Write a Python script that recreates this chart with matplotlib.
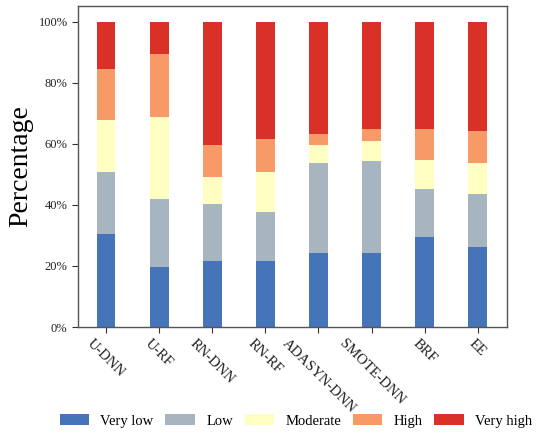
import matplotlib
matplotlib.use("Agg")
import matplotlib.pyplot as plt
import numpy as np
from matplotlib.ticker import PercentFormatter

plt.rcParams['font.family'] = ['Liberation Serif', 'DejaVu Serif']

models = ["U-DNN", "U-RF", "RN-DNN", "RN-RF", "ADASYN-DNN", "SMOTE-DNN", "BRF", "EE"]
levels = ["Very low", "Low", "Moderate", "High", "Very high"]

very_low  = [0.304, 0.198, 0.217, 0.217, 0.244, 0.242, 0.294, 0.263]
low       = [0.205, 0.223, 0.186, 0.160, 0.294, 0.301, 0.157, 0.172]
moderate  = [0.171, 0.267, 0.090, 0.130, 0.058, 0.066, 0.097, 0.102]
high      = [0.167, 0.207, 0.103, 0.110, 0.036, 0.039, 0.102, 0.106]
very_high = [0.153, 0.105, 0.404, 0.383, 0.368, 0.352, 0.350, 0.357]

series = [very_low, low, moderate, high, very_high]
colors = ["#4575b8", "#a6b5c0", "#ffffc4", "#f89a68", "#d93027"]

fig = plt.figure(figsize=(5.37, 4.36), dpi=100)
ax = fig.add_axes([0.1453, 0.25, 0.944 - 0.1453, 0.736])

x = np.arange(len(models))
bottom = np.zeros(len(models))
for vals, col, lab in zip(series, colors, levels):
    ax.bar(x, vals, width=0.35, bottom=bottom, color=col, label=lab)
    bottom += np.array(vals)

ax.set_xlim(-0.53, 7.55)
ax.set_ylim(0, 1.052)
ax.set_yticks([0, 0.2, 0.4, 0.6, 0.8, 1.0])
ax.yaxis.set_major_formatter(PercentFormatter(1.0, decimals=0))
ax.set_xticks(x)
ax.set_xticklabels(models, rotation=-45, ha='center', va='top', fontsize=10.5)
ax.tick_params(axis='y', labelsize=9, colors='#333333', length=4)
ax.tick_params(axis='x', colors='#333333', length=4)
for lbl in ax.get_xticklabels() + ax.get_yticklabels():
    lbl.set_color('#222222')
for sp in ax.spines.values():
    sp.set_color('#555555')
    sp.set_linewidth(1.0)

ax.set_ylabel("Percentage", fontsize=20)
ax.yaxis.set_label_coords(-0.105, 0.5)

handles, labels = ax.get_legend_handles_labels()
fig.legend(handles, labels, loc='center', bbox_to_anchor=(296 / 537, 1 - 421 / 436),
           ncol=5, frameon=False, fontsize=10.5, handlelength=2.0,
           handletextpad=0.8, columnspacing=0.8, borderaxespad=0)

fig.savefig("out.png", dpi=100)
